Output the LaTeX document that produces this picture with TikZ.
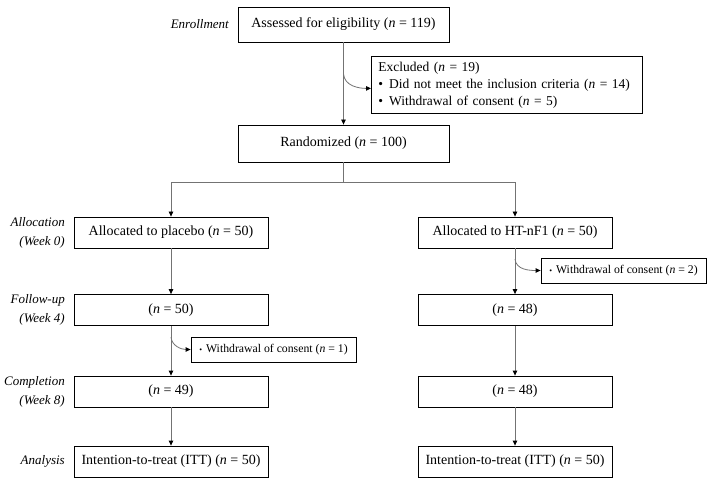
\documentclass[tikz,border=0pt]{standalone}
\usepackage{fontspec}
\setmainfont{Liberation Serif}
\usetikzlibrary{arrows.meta,calc}
\begin{document}
\begin{tikzpicture}[x=1pt,y=-1pt,
  box/.style={draw=black,line width=0.8pt,inner sep=0pt,font=\fontsize{14}{16}\selectfont},
  sbox/.style={draw=black,line width=0.8pt,inner sep=0pt,font=\fontsize{11.75}{13}\selectfont},
  lab/.style={anchor=east,align=right,inner sep=0pt,font=\fontsize{13}{19}\selectfont\itshape},
  conn/.style={draw=black!55,line width=0.8pt},
  arr/.style={conn,-{Triangle[length=5pt,width=4.5pt,fill=black,color=black]}}]
\useasboundingbox (0,0) rectangle (710,484);
% main column
\node[box,minimum width=211pt,minimum height=35pt] (assess) at (343.5,24.5) {Assessed for eligibility (\textit{n} = 119)};
\node[box,minimum width=211pt,minimum height=37pt] (rand) at (343.5,143.5) {Randomized (\textit{n} = 100)};
\node[box,minimum width=265pt,minimum height=57pt,align=left,anchor=north west,text width=257pt,inner xsep=7pt,font=\fontsize{13.5}{17}\selectfont] (excl) at (371,56)
 {Excluded (\textit{n} = 19)\\
  \textbullet\hspace{6pt}Did not meet the inclusion criteria (\textit{n} = 14)\\
  \textbullet\hspace{6pt}Withdrawal of consent (\textit{n} = 5)};
% left column
\node[box,minimum width=194pt,minimum height=31pt] (a1) at (171,232.5) {Allocated to placebo (\textit{n} = 50)};
\node[box,minimum width=194pt,minimum height=31pt] (f1) at (171,310) {(\textit{n} = 50)};
\node[box,minimum width=194pt,minimum height=31pt] (c1) at (171,391.5) {(\textit{n} = 49)};
\node[box,minimum width=194pt,minimum height=31pt] (t1) at (171,461.5) {Intention-to-treat (ITT) (\textit{n} = 50)};
\node[sbox,minimum width=165pt,minimum height=25pt] (w1) at (273.5,349.5) {{\fontsize{8}{8}\selectfont\textbullet}\hspace{4pt}Withdrawal of consent (\textit{n} = 1)};
% right column
\node[box,minimum width=194pt,minimum height=31pt] (a2) at (515,232.5) {Allocated to HT-nF1 (\textit{n} = 50)};
\node[box,minimum width=194pt,minimum height=31pt] (f2) at (515,310) {(\textit{n} = 48)};
\node[box,minimum width=194pt,minimum height=31pt] (c2) at (515,391.5) {(\textit{n} = 48)};
\node[box,minimum width=194pt,minimum height=31pt] (t2) at (515,461.5) {Intention-to-treat (ITT) (\textit{n} = 50)};
\node[sbox,minimum width=165pt,minimum height=25pt] (w2) at (623.5,270.5) {{\fontsize{8}{8}\selectfont\textbullet}\hspace{4pt}Withdrawal of consent (\textit{n} = 2)};
% stage labels
\node[lab] (l0) at (229,24.5) {Enrollment};
\node[lab] (l1) at (65,232.5) {Allocation\\(Week 0)};
\node[lab] (l2) at (65,310) {Follow-up\\(Week 4)};
\node[lab] (l3) at (65,391.5) {Completion\\(Week 8)};
\node[lab] (l4) at (65,461.5) {Analysis};
% connectors
\coordinate (split) at (343.5,182);
\coordinate (e0) at (343.5,74);
\coordinate (e1) at (171,337);
\coordinate (e2) at (515,259);
\draw[arr] (assess) -- (rand);
\draw[arr] (e0) to[out=-85,in=180] ([yshift=-3.5pt]excl.west);
\draw[conn] (rand) -- (split);
\draw[arr] (split) -| (a1);
\draw[arr] (split) -| (a2);
\draw[arr] (a1) -- (f1);
\draw[arr] (f1) -- (c1);
\draw[arr] (e1) to[out=-85,in=180] (w1.west);
\draw[arr] (c1) -- (t1);
\draw[arr] (a2) -- (f2);
\draw[arr] (e2) to[out=-85,in=180] (w2.west);
\draw[arr] (f2) -- (c2);
\draw[arr] (c2) -- (t2);
\end{tikzpicture}
\end{document}
